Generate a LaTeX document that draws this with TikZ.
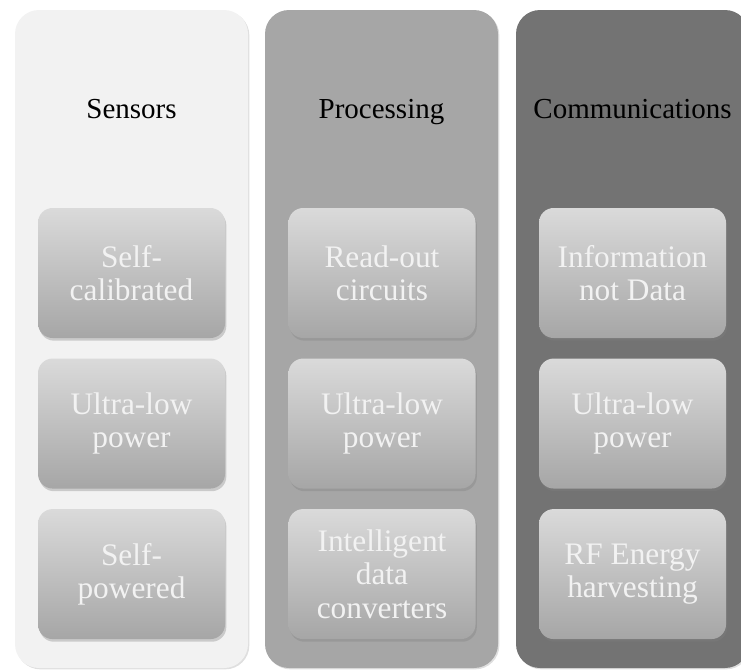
\documentclass[tikz,border=0pt]{standalone}
\usepackage{fontspec}
\setmainfont{Liberation Serif}
\usetikzlibrary{positioning,shadows}

\definecolor{paneA}{HTML}{F2F2F2}
\definecolor{paneB}{HTML}{A6A6A6}
\definecolor{paneC}{HTML}{737373}
\definecolor{itemtop}{HTML}{DADADA}
\definecolor{itembot}{HTML}{A6A6A6}

\tikzset{
    pane/.style={rounded corners=18pt, minimum width=174.75pt, minimum height=493.5pt,
        drop shadow={shadow xshift=1pt, shadow yshift=-1pt, opacity=.25}},
    panetitle/.style={font=\fontsize{21.75}{25}\selectfont, text=black, anchor=base},
    item/.style={rounded corners=11pt, minimum width=140.25pt, minimum height=97.5pt,
        top color=itemtop, bottom color=itembot, text=paneA, align=center,
        font=\fontsize{23.5}{25}\selectfont,
        drop shadow={shadow xshift=1pt, shadow yshift=-2pt, opacity=.35}},
}

\begin{document}
\begin{tikzpicture}[x=0.75pt, y=-0.75pt]
    \useasboundingbox (0,0) rectangle (741,671);
    \clip (0,0) rectangle (741,671);

    % the three columns
    \node[pane, fill=paneA] (sens) at (131.5, 339) {};
    \node[pane, fill=paneB] (proc) at (381.5, 339) {};
    \node[pane, fill=paneC] (comm) at (632.5, 339) {};

    \node[panetitle] (senshead) at (131.5, 118) {Sensors};
    \node[panetitle] (prochead) at (381.5, 118) {Processing};
    \node[panetitle] (commhead) at (632.5, 118) {Communications};

    % boxes inside each column
    \node[item] (sensa) at (131.5, 273) {Self-\\calibrated};
    \node[item, below=15pt of sensa] (sensb) {Ultra-low\\power};
    \node[item, below=15pt of sensb] (sensc) {Self-\\powered};

    \node[item] (proca) at (382, 273) {Read-out\\circuits};
    \node[item, below=15pt of proca] (procb) {Ultra-low\\power};
    \node[item, below=15pt of procb] (procc) {Intelligent\\data\\converters};

    \node[item] (comma) at (632.5, 273) {Information\\not Data};
    \node[item, below=15pt of comma] (commb) {Ultra-low\\power};
    \node[item, below=15pt of commb] (commc) {RF Energy\\harvesting};
\end{tikzpicture}
\end{document}
